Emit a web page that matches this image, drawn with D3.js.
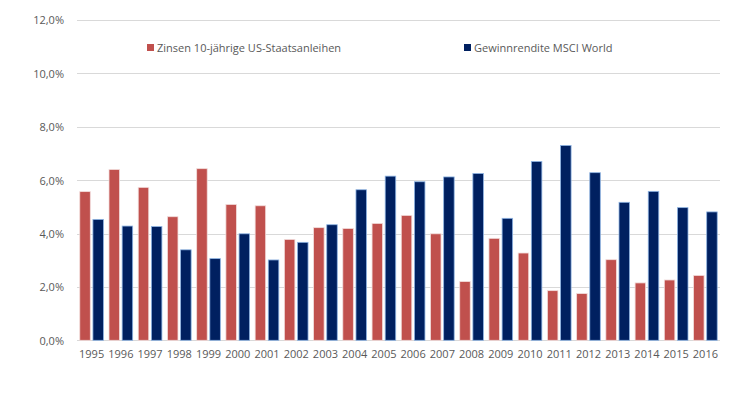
<!DOCTYPE html>
<meta charset="utf-8">
<style>
    body { margin: 0; background: #fff; }
    text { font-family: "Open Sans", sans-serif; fill: #595959; }
    .grid line { stroke: #d9d9d9; stroke-width: 1; }
    .axis path, .axis line { display: none; }
</style>
<body>
<script src="https://d3js.org/d3.v7.min.js"></script>
<script>

    var years = ["1995","1996","1997","1998","1999","2000","2001","2002","2003","2004","2005",
                 "2006","2007","2008","2009","2010","2011","2012","2013","2014","2015","2016"];
    // Zinsen 10-jährige US-Staatsanleihen (%)
    var zinsen = [5.57, 6.40, 5.73, 4.63, 6.43, 5.09, 5.04, 3.78, 4.22, 4.19, 4.38,
                  4.68, 3.99, 2.20, 3.82, 3.27, 1.86, 1.75, 3.02, 2.15, 2.26, 2.43];
    // Gewinnrendite MSCI World (%)
    var rendite = [4.53, 4.28, 4.26, 3.39, 3.06, 3.99, 3.01, 3.67, 4.33, 5.64, 6.15,
                   5.94, 6.12, 6.25, 4.57, 6.70, 7.30, 6.28, 5.17, 5.58, 4.97, 4.81];
    var yTicks = [0, 2, 4, 6, 8, 10, 12];
    var seriesNames = ["Zinsen 10-jährige US-Staatsanleihen", "Gewinnrendite MSCI World"];

    var width = 740,
        height = 397;

    var margin = {top: 20, left: 77, right: 20, bottom: 57};

    var svg = d3.select("body").append("svg")
        .attr("width", width)
        .attr("height", height);

    var x = d3.scaleBand()
        .domain(years)
        .range([margin.left, width - margin.right])
        .paddingInner(0.19)
        .paddingOuter(0.095);

    var x1 = d3.scaleBand()
        .domain([0, 1])
        .range([0, x.bandwidth()])
        .paddingInner(0.2);

    var y = d3.scaleLinear()
        .domain([0, 12])
        .range([height - margin.bottom + 0.3, margin.top]);

    // gridlines
    svg.append("g")
        .attr("class", "grid")
        .selectAll("line")
        .data(yTicks)
        .enter()
        .append("line")
        .attr("x1", margin.left)
        .attr("x2", width - margin.right)
        .attr("y1", function(d){ return Math.round(y(d)) + 0.5; })
        .attr("y2", function(d){ return Math.round(y(d)) + 0.5; });

    // y labels
    var yAxis = svg.append("g")
        .attr("class", "axis")
        .attr("transform", "translate(" + (margin.left - 10) + ",0)")
        .call(d3.axisLeft(y).tickValues(yTicks).tickSize(0)
            .tickFormat(function(d){ return d.toFixed(1).replace(".", ",") + "%"; }));
    yAxis.selectAll("text")
        .style("font-size", "11px")
        .attr("dy", "0.35em");

    // x labels
    var xAxis = svg.append("g")
        .attr("class", "axis")
        .attr("transform", "translate(0," + (height - margin.bottom + 7) + ")")
        .call(d3.axisBottom(x).tickSize(0));
    xAxis.selectAll("text")
        .style("font-size", "11px");
    svg.selectAll(".axis text").style("font-family", "'Open Sans', sans-serif").style("fill", "#595959");

    var rows = years.map(function(yr, i){ return {year: yr, vals: [zinsen[i], rendite[i]]}; });
    var fills = ["#c0504d", "#002060"];
    var strokes = ["#f2dcdb", "#8eb4e3"];

    var groups = svg.append("g")
        .selectAll("g")
        .data(rows)
        .enter()
        .append("g")
        .attr("transform", function(d){ return "translate(" + x(d.year) + ",0)"; });

    groups.selectAll("rect")
        .data(function(d){ return d.vals.map(function(v, k){ return {k: k, v: v}; }); })
        .enter()
        .append("rect")
        .attr("x", function(d){ return x1(d.k); })
        .attr("width", x1.bandwidth())
        .attr("y", function(d){ return y(d.v); })
        .attr("height", function(d){ return y(0) - y(d.v); })
        .style("fill", function(d){ return fills[d.k]; })
        .style("stroke", function(d){ return strokes[d.k]; })
        .style("stroke-width", 0.8);

    // legend
    var legendX = [147, 464];
    var legend = svg.append("g")
        .selectAll("g")
        .data(seriesNames)
        .enter()
        .append("g")
        .attr("transform", function(d, i){ return "translate(" + legendX[i] + ",44)"; });
    legend.append("rect")
        .attr("width", 7)
        .attr("height", 7)
        .style("fill", function(d, i){ return fills[i]; });
    legend.append("text")
        .attr("x", 10)
        .attr("y", 7.5)
        .style("font-size", "11px")
        .text(function(d){ return d; });

</script>
